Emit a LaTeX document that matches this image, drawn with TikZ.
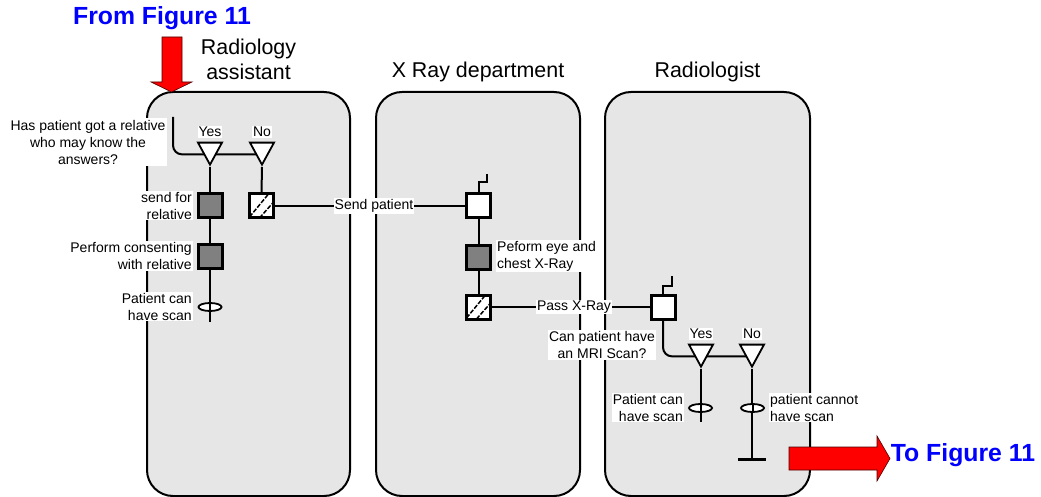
\documentclass[tikz,border=0pt]{standalone}
\usepackage{fontspec}
\setmainfont{Liberation Sans}
\usetikzlibrary{shapes.geometric,calc}
\pgfdeclarelayer{bg}
\pgfdeclarelayer{lines}
\pgfsetlayers{bg,lines,main}
\definecolor{lanegray}{HTML}{E6E6E6}
\definecolor{actgray}{HTML}{808080}
\definecolor{titleblue}{HTML}{0000FF}
\begin{document}
\begin{tikzpicture}[x=1pt,y=-1pt,
  lane/.style={draw, line width=2pt, fill=lanegray, rounded corners=26pt},
  conn/.style={line width=2pt},
  boxbase/.style={draw, line width=3pt, minimum size=24pt, inner sep=0pt},
  act/.style={boxbase, fill=actgray},
  wbox/.style={boxbase, fill=white},
  hbox/.style={boxbase, fill=white, path picture={
      \draw[line width=1.5pt, dash pattern=on 4.5pt off 1.6pt]
        ($(path picture bounding box.south west)+(0pt,1pt)$) -- +(19pt,23pt);
      \draw[line width=1.5pt, dash pattern=on 4.5pt off 1.6pt]
        ($(path picture bounding box.south west)+(10pt,0pt)$) -- +(15pt,17pt);}},
  tri/.style={draw, fill=white, line width=1.8pt, isosceles triangle,
      isosceles triangle stretches, shape border rotate=270,
      minimum width=24pt, minimum height=22pt, inner sep=0pt},
  oval/.style={draw, fill=white, ellipse, line width=1.8pt,
      minimum width=23pt, minimum height=8pt, inner sep=0pt},
  endbar/.style={fill=black, minimum width=28pt, minimum height=3pt, inner sep=0pt},
  lbl/.style={font=\fontsize{14}{17}\selectfont, fill=white, inner sep=1pt},
  head/.style={font=\fontsize{21.4}{25}\selectfont, align=center},
  title/.style={font=\fontsize{24.8}{28}\selectfont\bfseries, text=titleblue},
  redarrow/.style={fill=red, draw=black!70!red, line width=0.6pt}
]
\useasboundingbox (0,0) rectangle (1041,497);

% lanes
\begin{pgfonlayer}{bg}
  \path[lane] (147,92) rectangle (350,496);
  \path[lane] (376,92) rectangle (580,496);
  \path[lane] (605,92) rectangle (810,496);
\end{pgfonlayer}

% headers and titles
\node[head] (h1) at (248.5,59.5) {Radiology\\assistant};
\node[head] (h2) at (478,72) {X Ray department};
\node[head] (h3) at (707.5,72) {Radiologist};
\node[title] (from) at (162,18) {From Figure 11};
\node[title] (to) at (963,455) {To Figure 11};

% red arrows
\filldraw[redarrow] (162,37) -- (182,37) -- (182,82) -- (192,82) -- (171.5,92)
  -- (151,82) -- (162,82) -- cycle;
\filldraw[redarrow] (789,447) -- (877,447) -- (877,436) -- (890,458.5)
  -- (877,481) -- (877,470) -- (789,470) -- cycle;

% lane 1
\coordinate (d1) at (173,117);
\node[tri, anchor=apex] (yes1) at (210,167) {};
\node[tri, anchor=apex] (no1) at (262,167) {};
\node[lbl] (yes1l) at (210,132) {Yes};
\node[lbl] (no1l) at (262,132) {No};
\node[lbl, align=center, inner sep=2pt] (q1) at (88,142)
  {Has patient got a relative\\who may know the\\answers?};
\node[act] (send) at (210.5,206) {};
\node[hbox] (hb1) at (261.5,206) {};
\node[act] (cons) at (210.5,256.5) {};
\node[oval] (ov1) at (210,307) {};
\coordinate (c1end) at (210,322);
\node[lbl, align=right, anchor=east] (sendl) at (193,205.5) {send for\\relative};
\node[lbl, align=right, anchor=east] (consl) at (193,256) {Perform consenting\\with relative};
\node[lbl, align=right, anchor=east] (ov1l) at (193,306.5) {Patient can\\have scan};

% lane 2
\node[wbox] (xr1) at (478.5,206) {};
\node[act] (xa) at (478.5,257) {};
\node[hbox] (xh) at (478.5,307) {};
\node[lbl] (sendp) at (374,206) {Send patient};
\node[lbl, align=left, anchor=west] (xal) at (496,256) {Peform eye and\\chest X-Ray};
\node[lbl] (passx) at (574,307) {Pass X-Ray};

% lane 3
\node[wbox] (rb) at (663,307) {};
\node[tri, anchor=apex] (yes2) at (701,369) {};
\node[tri, anchor=apex] (no2) at (752,369) {};
\node[lbl] (yes2l) at (701,334) {Yes};
\node[lbl] (no2l) at (752,334) {No};
\node[lbl, align=center] (q2) at (602,345) {Can patient have\\an MRI Scan?};
\node[oval] (ov2) at (700.5,408) {};
\node[oval] (ov3) at (752.5,408) {};
\coordinate (c2end) at (701,422);
\node[endbar] (eb) at (752,459) {};
\node[lbl, align=right, anchor=east] (ov2l) at (684,407.5) {Patient can\\have scan};
\node[lbl, align=left, anchor=west] (ov3l) at (769,407.5) {patient cannot\\have scan};

% connectors
\begin{pgfonlayer}{lines}
  \draw[conn, rounded corners=9pt] (d1) |- (no1.apex |- no1.left side);
  \draw[conn] (yes1.apex) -- (c1end);
  \draw[conn] (no1.apex) -- (hb1.north);
  \draw[conn] (hb1.east) -- (xr1.west);
  \draw[conn] (xr1.south) -- (xh.north);
  \draw[conn] (xh.east) -- (rb.west);
  \draw[conn, rounded corners=9pt] (rb.south) |- (no2.apex |- no2.left side);
  \draw[conn] (yes2.apex) -- (c2end);
  \draw[conn] (no2.apex) -- (eb.center);
\end{pgfonlayer}
\draw[conn] (xr1.north) -- ++(0,-10) -- ++(8,0) -- ++(0,-8);
\draw[conn] (rb.north) -- ++(0,-8) -- ++(9,0) -- ++(0,-10);
\draw[conn] (ov1.north) -- (ov1.south);
\draw[conn] (ov2.north) -- (ov2.south);
\draw[conn] (ov3.north) -- (ov3.south);
\end{tikzpicture}
\end{document}
